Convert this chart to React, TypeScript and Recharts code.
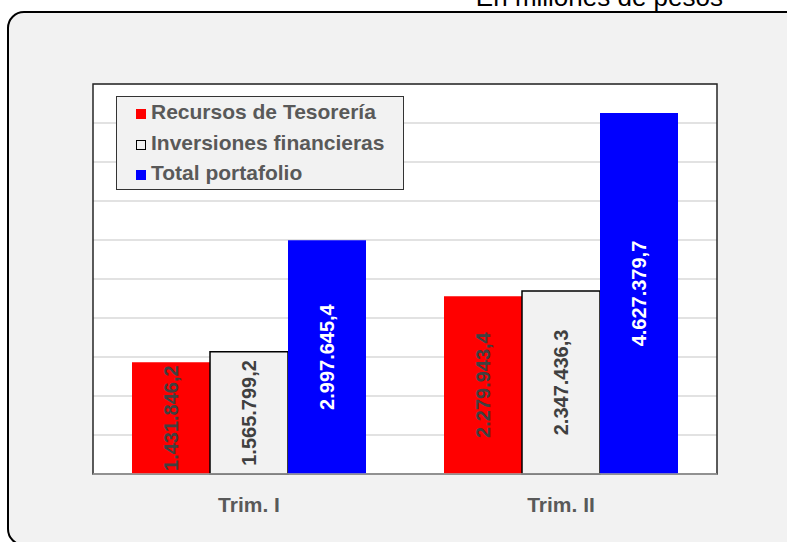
import { Bar, BarChart, CartesianGrid, LabelList, Legend, ReferenceArea, XAxis, YAxis } from 'recharts'

const categories = ['Trim. I', 'Trim. II']
const recursos = [1431846.2, 2279943.4]
const inversiones = [1565799.2, 2347436.3]
const total = [2997645.4, 4627379.7]
const yTicks = [0, 500000, 1000000, 1500000, 2000000, 2500000, 3000000, 3500000, 4000000, 4500000, 5000000]

const series = [
  { key: 'recursos', name: 'Recursos de Tesorería', fill: '#ff0000', stroke: 'none', label: '#404040' },
  { key: 'inversiones', name: 'Inversiones financieras', fill: '#f2f2f2', stroke: '#000000', label: '#404040' },
  { key: 'total', name: 'Total portafolio', fill: '#0000ff', stroke: 'none', label: '#ffffff' },
]

const data = categories.map((name, i) => ({
  name,
  recursos: recursos[i],
  inversiones: inversiones[i],
  total: total[i],
}))

const font = '"Liberation Sans", Arial, sans-serif'

// 1431846.2 -> "1.431.846,2"
function fmt(v: any) {
  const [int, dec] = Number(v).toFixed(1).split('.')
  return int.replace(/\B(?=(\d{3})+(?!\d))/g, '.') + ',' + dec
}

function LegendBox() {
  return (
    <div style={{
      border: '1.5px solid #333',
      background: '#f2f2f2',
      width: 288,
      height: 94,
      boxSizing: 'border-box',
      paddingLeft: 19,
      fontFamily: font,
      fontSize: 21,
      fontWeight: 'bold',
      color: '#595959',
    }}>
      {series.map(s => (
        <div key={s.key} style={{ height: 30.5, display: 'flex', alignItems: 'center', whiteSpace: 'nowrap' }}>
          <span style={{
            display: 'inline-block',
            width: 10,
            height: 10,
            boxSizing: 'border-box',
            background: s.fill,
            border: s.stroke === 'none' ? 'none' : '1.5px solid ' + s.stroke,
            marginRight: 5,
            marginTop: 4,
          }} />
          {s.name}
        </div>
      ))}
    </div>
  )
}

export default function App() {
  return (
    <div style={{ position: 'absolute', left: 0, top: 0, width: 787, height: 542, overflow: 'hidden', background: '#fff' }}>
      <div style={{
        position: 'absolute',
        left: 7,
        top: 11,
        width: 800,
        height: 531,
        border: '2px solid #000',
        borderRadius: 17,
        background: '#f2f2f2',
      }} />
      <div style={{ position: 'absolute', left: 0, top: 0 }}>
        <BarChart
          width={787}
          height={542}
          data={data}
          margin={{ top: 84, right: 70, left: 93, bottom: 38 }}
          barCategoryGap="12.5%"
          barGap={0}
        >
          <CartesianGrid vertical={false} stroke="#d9d9d9" strokeWidth={1.5} fill="#ffffff" />
          <XAxis
            dataKey="name"
            height={30}
            tickLine={false}
            tickMargin={17}
            stroke="#a6a6a6"
            strokeWidth={1.5}
            tick={{ fill: '#595959', fontSize: 21, fontWeight: 'bold', fontFamily: font }}
          />
          <YAxis hide domain={[0, 5000000]} ticks={yTicks} />
          <ReferenceArea y1={0} y2={5000000} fill="none" stroke="#262626" strokeWidth={1.5} ifOverflow="visible" />
          {series.map(s => (
            <Bar
              key={s.key}
              dataKey={s.key}
              name={s.name}
              fill={s.fill}
              stroke={s.stroke}
              strokeWidth={1.5}
              isAnimationActive={false}
            >
              <LabelList
                dataKey={s.key}
                position="center"
                angle={-90}
                formatter={fmt}
                fill={s.label}
                fontSize={20}
                fontWeight="bold"
                fontFamily={font}
              />
            </Bar>
          ))}
          <Legend
            layout="vertical"
            align="center"
            verticalAlign="middle"
            content={() => <LegendBox />}
            wrapperStyle={{ position: 'absolute', left: 116, top: 96, width: 290, height: 94 }}
          />
        </BarChart>
      </div>
      <div style={{
        position: 'absolute',
        right: 64,
        top: -16,
        fontFamily: font,
        fontSize: 26,
        lineHeight: '26px',
        color: '#000',
        whiteSpace: 'nowrap',
      }}>
        En millones de pesos
      </div>
    </div>
  )
}
